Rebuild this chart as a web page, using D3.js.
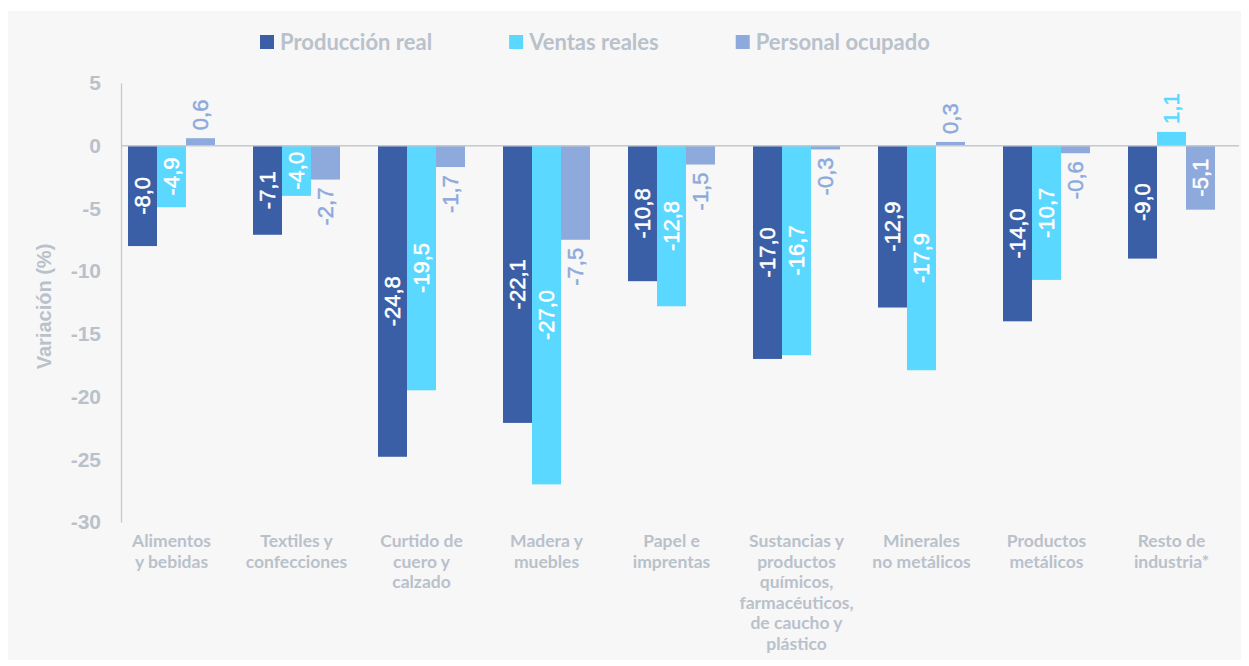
<!DOCTYPE html>
<html>
<head>
<meta charset="utf-8">
<script src="https://cdn.jsdelivr.net/npm/d3@7"></script>
<style>
  body { margin: 0; background: #ffffff; }
  svg { display: block; }
</style>
</head>
<body>
<svg id="chart"></svg>
<script>
const categories = ["Alimentos y bebidas", "Textiles y confecciones", "Curtido de cuero y calzado",
  "Madera y muebles", "Papel e imprentas", "Sustancias y productos químicos, farmacéuticos, de caucho y plástico",
  "Minerales no metálicos", "Productos metálicos", "Resto de industria*"];
const categoryLines = [
  ["Alimentos", "y bebidas"],
  ["Textiles y", "confecciones"],
  ["Curtido de", "cuero y", "calzado"],
  ["Madera y", "muebles"],
  ["Papel e", "imprentas"],
  ["Sustancias y", "productos", "químicos,", "farmacéuticos,", "de caucho y", "plástico"],
  ["Minerales", "no metálicos"],
  ["Productos", "metálicos"],
  ["Resto de", "industria*"]
];
const seriesNames = ["Producción real", "Ventas reales", "Personal ocupado"];
const produccion = [-8.0, -7.1, -24.8, -22.1, -10.8, -17.0, -12.9, -14.0, -9.0];
const ventas = [-4.9, -4.0, -19.5, -27.0, -12.8, -16.7, -17.9, -10.7, 1.1];
const personal = [0.6, -2.7, -1.7, -7.5, -1.5, -0.3, 0.3, -0.6, -5.1];
const yTicks = [5, 0, -5, -10, -15, -20, -25, -30];
// personal labels sit outside the bar except this one
const personalInside = ["Resto de industria*"];

const colors = ["#3a5fa6", "#5ad8ff", "#8eaadc"];
const GREY = "#b9c1cb";
const W = 1249, H = 666;

const svg = d3.select("#chart").attr("width", W).attr("height", H);

svg.append("rect")
  .attr("x", 8).attr("y", 11)
  .attr("width", 1233).attr("height", 649)
  .attr("fill", "#f7f7f7");

const y = d3.scaleLinear().domain([5, -30]).range([83, 522]);
const x0 = d3.scaleBand().domain(categories).range([109, 1234])
  .paddingInner(0.304).paddingOuter(0.152);
const x1 = d3.scaleBand().domain(seriesNames).range([0, x0.bandwidth()]);

const seriesData = [produccion, ventas, personal];

// y axis
const AXIS_X = 121;
const yAxis = svg.append("g")
  .attr("transform", `translate(${AXIS_X},0)`)
  .call(d3.axisLeft(y).tickValues(yTicks).tickSize(0).tickPadding(20)
    .tickFormat(d => d3.format("d")(d).replace("−", "-")));
yAxis.select(".domain").attr("stroke", "#c6c8cc").attr("stroke-width", 1.3);
yAxis.selectAll("text")
  .attr("fill", GREY)
  .attr("font-family", "'Liberation Sans', Arial, sans-serif")
  .attr("font-weight", "bold")
  .attr("font-size", 21);

svg.append("text")
  .attr("transform", `translate(51,${(83 + 522) / 2 + 4}) rotate(-90)`)
  .attr("text-anchor", "middle")
  .attr("fill", GREY)
  .attr("font-family", "'Liberation Sans', Arial, sans-serif")
  .attr("font-weight", "bold")
  .attr("font-size", 20)
  .text("Variación (%)");

// bars
const flat = [];
seriesData.forEach((vals, s) => {
  vals.forEach((v, i) => flat.push({ s, cat: categories[i], v }));
});

svg.append("g").selectAll("rect")
  .data(flat)
  .enter()
  .append("rect")
  .attr("x", d => x0(d.cat) + x1(seriesNames[d.s]))
  .attr("width", x1.bandwidth())
  .attr("y", d => y(Math.max(0, d.v)))
  .attr("height", d => Math.abs(y(d.v) - y(0)))
  .attr("fill", d => colors[d.s]);

// zero line
svg.append("line")
  .attr("x1", AXIS_X).attr("x2", 1239)
  .attr("y1", y(0)).attr("y2", y(0))
  .attr("stroke", "#c6c8cc").attr("stroke-width", 1.5);

// value labels
const fmt = v => d3.format(".1f")(v).replace("−", "-").replace(".", ",");
const isInside = d => {
  if (d.v > 0) return false;
  if (d.s === 2) return personalInside.includes(d.cat);
  return true;
};

svg.append("g").selectAll("text")
  .data(flat)
  .enter()
  .append("text")
  .attr("transform", d => {
    const cx = x0(d.cat) + x1(seriesNames[d.s]) + x1.bandwidth() / 2;
    let cy;
    if (isInside(d)) {
      cy = (y(0) + y(d.v)) / 2;
    } else if (d.v > 0) {
      cy = y(d.v) - 8;
    } else {
      cy = y(d.v) + 8;
    }
    return `translate(${cx},${cy}) rotate(-90)`;
  })
  .attr("text-anchor", d => isInside(d) ? "middle" : (d.v > 0 ? "start" : "end"))
  .attr("dominant-baseline", "central")
  .attr("fill", d => isInside(d) ? "#ffffff" : colors[d.s])
  .attr("stroke", d => isInside(d) ? "#ffffff" : colors[d.s])
  .attr("stroke-width", 0.5)
  .attr("font-family", "'Liberation Sans', Arial, sans-serif")
  .attr("font-size", 22)
  .text(d => fmt(d.v));

// category labels
const catG = svg.append("g")
  .attr("font-family", "Lato, sans-serif")
  .attr("font-weight", "bold")
  .attr("font-size", 17.5)
  .attr("fill", GREY)
  .attr("text-anchor", "middle");
categories.forEach((c, i) => {
  const cx = x0(c) + x0.bandwidth() / 2;
  const t = catG.append("text").attr("x", cx).attr("y", 547);
  categoryLines[i].forEach((line, j) => {
    t.append("tspan")
      .attr("x", cx)
      .attr("y", 547 + j * 20.5)
      .text(line);
  });
});

// legend
const legend = svg.append("g");
let lx = 260;
seriesNames.forEach((name, i) => {
  legend.append("rect")
    .attr("x", lx).attr("y", 35)
    .attr("width", 14).attr("height", 14)
    .attr("fill", colors[i]);
  const t = legend.append("text")
    .attr("x", lx + 20).attr("y", 50)
    .attr("fill", GREY)
    .attr("font-family", "Lato, sans-serif")
    .attr("font-weight", "bold")
    .attr("font-size", 22)
    .text(name);
  lx += 20 + t.node().getComputedTextLength() + 77;
});
</script>
</body>
</html>
